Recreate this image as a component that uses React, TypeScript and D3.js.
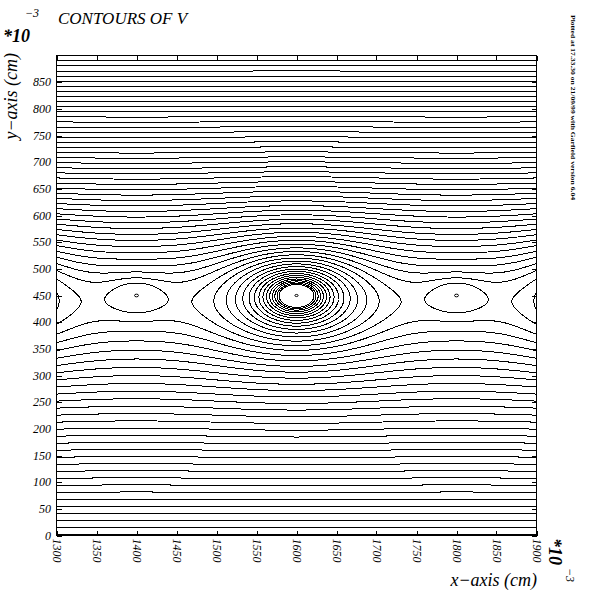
import React, { useMemo } from 'react';
import * as d3 from 'd3';

// axis ticks (units of 10^-3 cm)
const xTicks = [1300, 1350, 1400, 1450, 1500, 1550, 1600, 1650, 1700, 1750, 1800, 1850, 1900];
const yTicks = [0, 50, 100, 150, 200, 250, 300, 350, 400, 450, 500, 550, 600, 650, 700, 750, 800, 850];
const xDomain = [1300, 1900];
const yDomain = [0, 900];

// wire rows of the cell (one wire per period): sense wire and field wire
const wireX = [1600, 1400];
const wireY = [450, 450];
const wireCharge = [1, 0.21];
const wireDiameter = [4, 5];
const wirePeriod = 400;

// drift field asymmetry, contour spacing, a point the separatrix passes through
const driftTilt = -0.0015;
const contourStep = 0.105;
const anchorPoint = [1473, 450];
const senseClearRadius = 21;

const W = 593;
const H = 594;
const FONT = '"Liberation Serif", "Times New Roman", serif';

function potential(x: number, y: number) {
  const k = (2 * Math.PI) / wirePeriod;
  let v = driftTilt * (y - 450);
  for (let i = 0; i < wireX.length; i++) {
    const dx = x - wireX[i];
    const dy = y - wireY[i];
    v += -0.5 * wireCharge[i] * Math.log(Math.cosh(k * dy) - Math.cos(k * dx));
  }
  return v;
}

function distToRow(x: number, y: number, i: number) {
  let dx = (((x - wireX[i]) % wirePeriod) + wirePeriod) % wirePeriod;
  if (dx > wirePeriod / 2) dx -= wirePeriod;
  return Math.hypot(dx, y - wireY[i]);
}

export default function App() {
  const left = 56.5, right = 536.5, top = 55.5, bottom = 535.5;
  const xScale = d3.scaleLinear().domain(xDomain).range([left, right]);
  const yScale = d3.scaleLinear().domain(yDomain).range([bottom, top]);

  const paths = useMemo(() => {
    const step = 1.5;
    const nx = Math.round((xDomain[1] - xDomain[0]) / step) + 1;
    const ny = Math.round((yDomain[1] - yDomain[0]) / step) + 1;

    const anchor = potential(anchorPoint[0], anchorPoint[1]);
    const senseCap = potential(wireX[0] - senseClearRadius, wireY[0]);

    // saddle between field wire and sense wire along the wire plane
    let saddle = Infinity;
    for (let x = wireX[1] + 5; x < wireX[0] - 5; x += 0.5) saddle = Math.min(saddle, potential(x, wireY[1]));
    const lensLevel = anchor + Math.ceil((saddle - anchor) / contourStep) * contourStep;
    const fieldCap = lensLevel + 0.5 * contourStep;

    const values = new Float64Array(nx * ny);
    let vmin = Infinity, vmax = -Infinity;
    for (let j = 0; j < ny; j++) {
      const y = yDomain[1] - j * step;
      for (let i = 0; i < nx; i++) {
        const x = xDomain[0] + i * step;
        let v = potential(x, y);
        if (!isFinite(v)) v = 1e6;
        v = Math.min(v, senseCap);
        if (distToRow(x, y, 1) < 80) v = Math.min(v, fieldCap);
        values[j * nx + i] = v;
        if (v < vmin) vmin = v;
        if (v > vmax) vmax = v;
      }
    }

    const kmin = Math.ceil((vmin - anchor) / contourStep);
    const kmax = Math.floor((vmax - anchor) / contourStep);
    const levels = d3.range(kmin, kmax + 1).map((k) => anchor + k * contourStep);

    const proj = d3.geoTransform({
      point(px: number, py: number) {
        this.stream.point(
          xScale(xDomain[0] + (px - 0.5) * step),
          yScale(yDomain[1] - (py - 0.5) * step)
        );
      },
    });
    const path = d3.geoPath(proj);
    const contours = d3.contours().size([nx, ny]).thresholds(levels)(Array.from(values));
    return contours.map((c) => path(c as any) || '');
  }, []);

  // wire markers inside the window
  const markers: { x: number; y: number; d: number }[] = [];
  wireX.forEach((wx, i) => {
    for (let k = -3; k <= 3; k++) {
      const x = wx + k * wirePeriod;
      if (x > xDomain[0] && x < xDomain[1]) markers.push({ x, y: wireY[i], d: wireDiameter[i] });
    }
  });

  const tick = 5;
  const pxPerUnitX = (right - left) / (xDomain[1] - xDomain[0]);
  const pxPerUnitY = (bottom - top) / (yDomain[1] - yDomain[0]);

  return (
    <div style={{ position: 'absolute', left: 0, top: 0 }}>
      <svg width={W} height={H} style={{ display: 'block', background: '#fff' }}>
        <defs>
          <clipPath id="plotClip">
            <rect x={left} y={top} width={right - left} height={bottom - top} />
          </clipPath>
        </defs>
        <rect x={0} y={0} width={W} height={H} fill="#fff" />

        <g clipPath="url(#plotClip)" fill="none" stroke="#000" strokeWidth={1} shapeRendering="crispEdges">
          {paths.map((d, i) => (
            <path key={i} d={d} />
          ))}
        </g>

        {markers.map((m, i) => (
          <ellipse
            key={i}
            cx={xScale(m.x)}
            cy={yScale(m.y)}
            rx={(m.d / 2) * pxPerUnitX}
            ry={(m.d / 2) * pxPerUnitY}
            fill="none"
            stroke="#000"
            strokeWidth={1}
          />
        ))}

        {/* frame and ticks */}
        <rect x={left} y={top} width={right - left} height={bottom - top} fill="none" stroke="#000" strokeWidth={1} shapeRendering="crispEdges" />
        <g stroke="#000" strokeWidth={1} shapeRendering="crispEdges">
          {xTicks.map((t) => (
            <g key={'xt' + t}>
              <line x1={Math.round(xScale(t)) + 0.5} x2={Math.round(xScale(t)) + 0.5} y1={bottom} y2={bottom - tick} />
              <line x1={Math.round(xScale(t)) + 0.5} x2={Math.round(xScale(t)) + 0.5} y1={top} y2={top + tick} />
            </g>
          ))}
          {yTicks.map((t) => (
            <g key={'yt' + t}>
              <line x1={left} x2={left + tick} y1={Math.round(yScale(t)) + 0.5} y2={Math.round(yScale(t)) + 0.5} />
              <line x1={right} x2={right - tick} y1={Math.round(yScale(t)) + 0.5} y2={Math.round(yScale(t)) + 0.5} />
            </g>
          ))}
        </g>

        <g fontFamily={FONT} fontStyle="italic" fill="#000">
          {yTicks.map((t) => (
            <text key={'yl' + t} x={51} y={yScale(t)} textAnchor="end" dominantBaseline="central" fontSize={12}>
              {t}
            </text>
          ))}
          {xTicks.map((t) => (
            <text
              key={'xl' + t}
              transform={`translate(${xScale(t)},${bottom + 3}) rotate(90)`}
              textAnchor="start"
              dominantBaseline="central"
              fontSize={12}
            >
              {t}
            </text>
          ))}

          <text x={58} y={24} fontSize={17}>CONTOURS OF V</text>
          <text x={3} y={42} fontSize={18} fontWeight="bold">*10</text>
          <text x={25} y={17} fontSize={12}>−3</text>

          <text transform="translate(17,53) rotate(-90)" textAnchor="end" fontSize={18}>y−axis (cm)</text>
          <text x={537} y={586} textAnchor="end" fontSize={18}>x−axis (cm)</text>

          <text transform="translate(549,538) rotate(90)" fontSize={18} fontWeight="bold">*10</text>
          <text transform="translate(566,568) rotate(90)" fontSize={12}>−3</text>

          <text transform="translate(571,15) rotate(90)" fontSize={7} fontWeight="bold" fontStyle="normal" textLength={185} lengthAdjust="spacingAndGlyphs">
            Plotted at 17.33.30 on 21/09/99 with Garfield version 6.04
          </text>
        </g>
      </svg>
    </div>
  );
}
